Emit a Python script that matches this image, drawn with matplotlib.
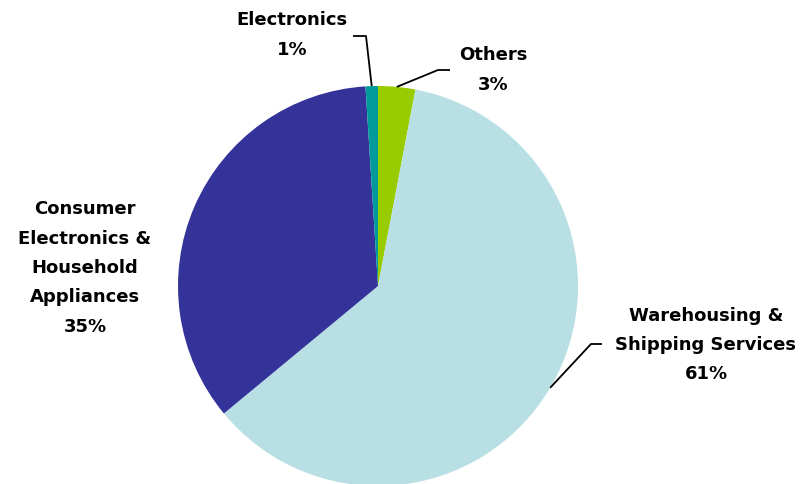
import numpy as np
import matplotlib.pyplot as plt

# Share by segment, drawn clockwise from 12 o'clock
labels = ["Others", "Warehousing &\nShipping Services", "Consumer\nElectronics &\nHousehold\nAppliances", "Electronics"]
shares = [3, 61, 35, 1]
colors = ["#99cc00", "#b8dfe3", "#333399", "#00999c"]

plt.rcParams["font.family"] = ["DejaVu Sans"]

fig = plt.figure(figsize=(8.04, 4.85), dpi=100)
# pie box: 400 px square, centred at (378, 287) px from the top-left
ax = fig.add_axes([178 / 804, -2 / 485, 400 / 804, 400 / 485])
wedges, _ = ax.pie(shares, colors=colors, startangle=90, counterclock=False,
                   radius=1, wedgeprops=dict(linewidth=0))
ax.set_xlim(-1, 1)
ax.set_ylim(-1, 1)
ax.set_aspect("auto")


def px(x, y):
    # figure pixels -> data units of the pie axes
    return (x - 378) / 200, (287 - y) / 200


def mid_point(w, r=1.0):
    a = np.deg2rad((w.theta1 + w.theta2) / 2)
    return r * np.cos(a), r * np.sin(a)


txt = dict(ha="center", va="center", fontsize=13, fontweight="bold",
           linespacing=1.82, clip_on=False, color="black")

# label text positions (pixels) and leader elbows
label_pos = {0: (493, 70), 1: (706, 345), 2: (85, 268), 3: (292, 35)}
elbows = {0: [(450, 71), (438, 71)], 1: [(602, 345), (591, 345)], 3: [(353, 37), (366, 37)]}

for i, w in enumerate(wedges):
    lx, ly = px(*label_pos[i])
    ax.text(lx, ly, f"{labels[i]}\n{shares[i]}%", **txt)
    if i in elbows:
        pts = [px(*p) for p in elbows[i]] + [mid_point(w)]
        xs, ys = zip(*pts)
        ax.plot(xs, ys, color="black", lw=1.3, clip_on=False,
                solid_capstyle="butt")

fig.savefig("out.png", dpi=100)
